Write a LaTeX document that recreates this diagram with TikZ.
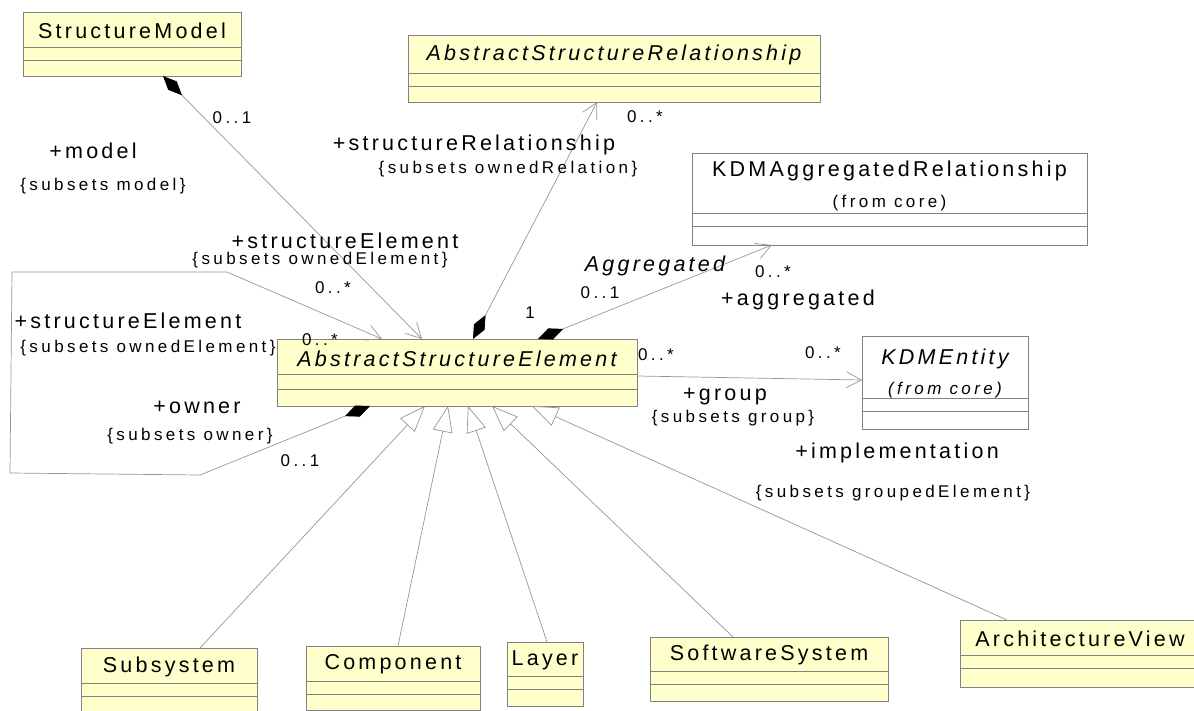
\documentclass[tikz,border=0pt]{standalone}
\usepackage{fontspec}
\setmainfont{Liberation Sans}[LetterSpace=15]
\newfontfamily\notefamily{Liberation Sans}[LetterSpace=20]
\usetikzlibrary{arrows.meta,calc}

\definecolor{classfill}{RGB}{255,255,204}
\definecolor{boxgray}{RGB}{130,130,130}
\definecolor{linegray}{RGB}{150,150,150}

\newcommand\bigfont{\fontsize{21.5}{25}\selectfont}
\newcommand\smallfont{\notefamily\fontsize{17}{20}\selectfont}

% UML class: name, box style, x, y, width, height, first divider, second divider, title
\newcommand\umlclass[9]{%
  \begin{scope}[title shift=0,box fill=white,#2]
  \node[classbox,fill=\boxfill,minimum width=#5pt,minimum height=#6pt,anchor=north west] (#1) at (#3,#4) {};
  \draw[boxline] ($(#1.north west)+(0,#7)$) -- ($(#1.north east)+(0,#7)$);
  \draw[boxline] ($(#1.north west)+(0,#8)$) -- ($(#1.north east)+(0,#8)$);
  \node[classname] (#1-title) at ($(#1.north)+(0,#7/2+\titleshift)$) {#9};
  \end{scope}
}

\tikzset{
  title shift/.store in=\titleshift,
  box fill/.store in=\boxfill,
  classbox/.style={draw=boxgray,line width=0.9pt,inner sep=0pt,outer sep=0pt,rectangle},
  yellowbox/.style={box fill=classfill},
  whitebox/.style={box fill=white},
  boxline/.style={draw=boxgray,line width=0.9pt},
  classname/.style={font=\bigfont,align=center,inner sep=0pt},
  role/.style={font=\bigfont,inner sep=0pt},
  note/.style={font=\smallfont,inner sep=0pt},
  assoc/.style={draw=linegray,line width=0.7pt},
  navend/.style={-{Straight Barb[length=15pt,width=16pt]}},
  composite/.style={{Diamond[length=27pt,width=12pt,color=black]}-{Straight Barb[length=15pt,width=16pt]}},
  generalization/.style={draw=linegray,line width=0.7pt,-{Triangle[open,fill=white,length=26pt,width=20pt]}},
}

\begin{document}
\begin{tikzpicture}[x=1pt,y=-1pt]
\useasboundingbox (0,0) rectangle (1194,711);

% classes
\umlclass{sm}{yellowbox,title shift=1}{23}{12}{218}{64}{35}{48}{StructureModel}
\umlclass{asr}{yellowbox,title shift=1}{408}{35}{412}{67}{38}{51}{\itshape AbstractStructureRelationship}
\umlclass{kar}{whitebox,title shift=3}{692}{153}{395}{92}{60}{73}{KDMAggregatedRelationship\\[6pt]\smallfont (from core)}
\umlclass{ase}{yellowbox,title shift=2}{277}{339}{360}{67}{35}{50}{\itshape AbstractStructureElement}
\umlclass{ke}{whitebox,title shift=6}{862}{336}{166}{93}{62}{75}{\itshape KDMEntity\\[5pt]\smallfont\itshape (from core)}
\umlclass{sub}{yellowbox,title shift=1}{81}{648}{176}{72}{35}{48}{Subsystem}
\umlclass{comp}{yellowbox,title shift=1}{306}{646}{174}{64}{35}{48}{Component}
\umlclass{layer}{yellowbox,title shift=1}{507}{642}{76}{64}{34}{47}{Layer}
\umlclass{ss}{yellowbox,title shift=1}{650}{637}{238}{64}{34}{47}{SoftwareSystem}
\umlclass{av}{yellowbox,title shift=1}{960}{620}{240}{67}{35}{48}{ArchitectureView}

% model -- structureElement
\draw[assoc,composite] ($(sm.south west)+(140,0)$) -- ($(ase.north west)+(145,0)$);
% owner -- structureElement (self association)
\draw[assoc,composite] ($(ase.south west)+(93,0)$) -- (200,475) -- (10,473) -- (12,272) -- (227,272) -- ($(ase.north west)+(105,0)$);
% structureRelationship
\draw[assoc,composite] ($(ase.north west)+(196,0)$) -- ($(asr.south west)+(189,0)$);
% aggregated
\draw[assoc,composite] ($(ase.north west)+(261,0)$) -- ($(kar.south west)+(80,0)$);
% group -- implementation
\draw[assoc,navend] ($(ase.north east)+(0,37)$) -- ($(ke.north west)+(0,44)$);

% specializations
\draw[generalization] ($(sub.north west)+(119,0)$) -- ($(ase.south west)+(148,0)$);
\draw[generalization] ($(comp.north west)+(92,0)$) -- ($(ase.south west)+(171,0)$);
\draw[generalization] ($(layer.north west)+(40,0)$) -- ($(ase.south west)+(191,0)$);
\draw[generalization] ($(ss.north west)+(83,0)$) -- ($(ase.south west)+(215,0)$);
\draw[generalization] ($(av.north west)+(47,0)$) -- ($(ase.south west)+(255,0)$);

% role names, constraints and multiplicities
\node[note] (m-model) at (232,118) {0..1};
\node[role] (r-model) at (93,151) {+model};
\node[note] (c-model) at (103,186) {\{subsets model\}};

\node[role] (r-rel) at (474,145) {+structureRelationship};
\node[note] (c-rel) at (508,169) {\{subsets ownedRelation\}};
\node[note] (m-rel) at (645,117) {0..*};

\node[role] (r-elem1) at (345,241) {+structureElement};
\node[note] (c-elem1) at (320,260) {\{subsets ownedElement\}};
\node[note] (m-elem1) at (333,288) {0..*};

\node[role] (r-elem2) at (128,321) {+structureElement};
\node[note] (c-elem2) at (148,348) {\{subsets ownedElement\}};
\node[note] (m-elem2) at (320,340) {0..*};

\node[role] (r-owner) at (197,407) {+owner};
\node[note] (c-owner) at (190,436) {\{subsets owner\}};
\node[note] (m-owner) at (300,461) {0..1};

\node[role,font=\bigfont\itshape] (a-name) at (655,266) {Aggregated};
\node[note] (m-agg1) at (600,293) {0..1};
\node[note] (m-agg2) at (530,313) {1};
\node[note] (m-agg3) at (773,272) {0..*};
\node[role] (r-agg) at (798,300) {+aggregated};

\node[note] (m-grp1) at (656,355) {0..*};
\node[note] (m-grp2) at (823,353) {0..*};
\node[role] (r-grp) at (725,397) {+group};
\node[note] (c-grp) at (733,418) {\{subsets group\}};
\node[role] (r-impl) at (897,453) {+implementation};
\node[note] (c-impl) at (893,493) {\{subsets groupedElement\}};
\end{tikzpicture}
\end{document}
